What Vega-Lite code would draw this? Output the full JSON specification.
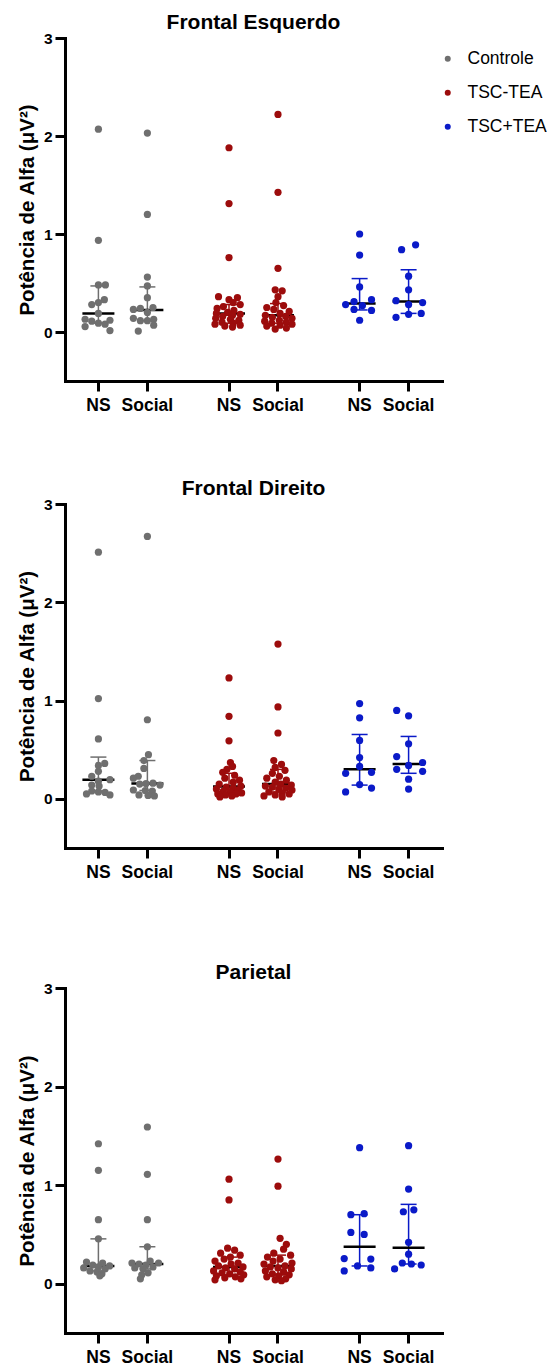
{
"$schema": "https://vega.github.io/schema/vega-lite/v6.json",
"background": "white",
"padding": {"left": 17, "top": 12, "right": 0, "bottom": 0},
"spacing": 64,
"datasets": {
"sum": [
{"p":1,"g":"Controle","k":"1 NS","med":0.19,"q1":0.09,"q3":0.47},
{"p":1,"g":"Controle","k":"1 Social","med":0.225,"q1":0.115,"q3":0.46},
{"p":1,"g":"TSC-TEA","k":"2 NS","med":0.19,"q1":0.09,"q3":0.28},
{"p":1,"g":"TSC-TEA","k":"2 Social","med":0.17,"q1":0.09,"q3":0.29},
{"p":1,"g":"TSC+TEA","k":"3 NS","med":0.29,"q1":0.225,"q3":0.545},
{"p":1,"g":"TSC+TEA","k":"3 Social","med":0.31,"q1":0.19,"q3":0.635},
{"p":2,"g":"Controle","k":"1 NS","med":0.195,"q1":0.08,"q3":0.425},
{"p":2,"g":"Controle","k":"1 Social","med":0.155,"q1":0.085,"q3":0.39},
{"p":2,"g":"TSC-TEA","k":"2 NS","med":0.125,"q1":0.06,"q3":0.26},
{"p":2,"g":"TSC-TEA","k":"2 Social","med":0.15,"q1":0.07,"q3":0.3},
{"p":2,"g":"TSC+TEA","k":"3 NS","med":0.3,"q1":0.14,"q3":0.655},
{"p":2,"g":"TSC+TEA","k":"3 Social","med":0.355,"q1":0.26,"q3":0.635},
{"p":3,"g":"Controle","k":"1 NS","med":0.18,"q1":0.13,"q3":0.455},
{"p":3,"g":"Controle","k":"1 Social","med":0.2,"q1":0.15,"q3":0.375},
{"p":3,"g":"TSC-TEA","k":"2 NS","med":0.17,"q1":0.09,"q3":0.27},
{"p":3,"g":"TSC-TEA","k":"2 Social","med":0.18,"q1":0.09,"q3":0.29},
{"p":3,"g":"TSC+TEA","k":"3 NS","med":0.375,"q1":0.18,"q3":0.7},
{"p":3,"g":"TSC+TEA","k":"3 Social","med":0.365,"q1":0.2,"q3":0.805}
],
"pts": [
{"p":1,"g":"Controle","k":"1 NS","v":2.07,"j":0},
{"p":1,"g":"Controle","k":"1 NS","v":0.935,"j":0},
{"p":1,"g":"Controle","k":"1 NS","v":0.48,"j":0},
{"p":1,"g":"Controle","k":"1 NS","v":0.48,"j":1},
{"p":1,"g":"Controle","k":"1 NS","v":0.33,"j":0.85},
{"p":1,"g":"Controle","k":"1 NS","v":0.3,"j":0},
{"p":1,"g":"Controle","k":"1 NS","v":0.28,"j":-0.95},
{"p":1,"g":"Controle","k":"1 NS","v":0.19,"j":0},
{"p":1,"g":"Controle","k":"1 NS","v":0.13,"j":-1.9},
{"p":1,"g":"Controle","k":"1 NS","v":0.11,"j":-0.95},
{"p":1,"g":"Controle","k":"1 NS","v":0.09,"j":0},
{"p":1,"g":"Controle","k":"1 NS","v":0.08,"j":0.95},
{"p":1,"g":"Controle","k":"1 NS","v":0.12,"j":1.65},
{"p":1,"g":"Controle","k":"1 NS","v":0.055,"j":-1.9},
{"p":1,"g":"Controle","k":"1 NS","v":0.015,"j":1.65},
{"p":1,"g":"Controle","k":"1 Social","v":2.03,"j":0},
{"p":1,"g":"Controle","k":"1 Social","v":1.2,"j":0},
{"p":1,"g":"Controle","k":"1 Social","v":0.56,"j":0},
{"p":1,"g":"Controle","k":"1 Social","v":0.47,"j":0},
{"p":1,"g":"Controle","k":"1 Social","v":0.35,"j":0},
{"p":1,"g":"Controle","k":"1 Social","v":0.25,"j":0.8},
{"p":1,"g":"Controle","k":"1 Social","v":0.24,"j":-1},
{"p":1,"g":"Controle","k":"1 Social","v":0.23,"j":-2},
{"p":1,"g":"Controle","k":"1 Social","v":0.2,"j":0},
{"p":1,"g":"Controle","k":"1 Social","v":0.14,"j":-2},
{"p":1,"g":"Controle","k":"1 Social","v":0.13,"j":0.9},
{"p":1,"g":"Controle","k":"1 Social","v":0.115,"j":-1},
{"p":1,"g":"Controle","k":"1 Social","v":0.115,"j":0},
{"p":1,"g":"Controle","k":"1 Social","v":0.07,"j":0.9},
{"p":1,"g":"Controle","k":"1 Social","v":0.01,"j":-1.3},
{"p":1,"g":"TSC-TEA","k":"2 NS","v":1.88,"j":0},
{"p":1,"g":"TSC-TEA","k":"2 NS","v":1.31,"j":0},
{"p":1,"g":"TSC-TEA","k":"2 NS","v":0.76,"j":0},
{"p":1,"g":"TSC-TEA","k":"2 NS","v":0.36,"j":-1.5},
{"p":1,"g":"TSC-TEA","k":"2 NS","v":0.35,"j":1.2},
{"p":1,"g":"TSC-TEA","k":"2 NS","v":0.33,"j":0},
{"p":1,"g":"TSC-TEA","k":"2 NS","v":0.3,"j":0.6},
{"p":1,"g":"TSC-TEA","k":"2 NS","v":0.28,"j":1.6},
{"p":1,"g":"TSC-TEA","k":"2 NS","v":0.26,"j":-0.8},
{"p":1,"g":"TSC-TEA","k":"2 NS","v":0.24,"j":-1.7},
{"p":1,"g":"TSC-TEA","k":"2 NS","v":0.22,"j":0.7},
{"p":1,"g":"TSC-TEA","k":"2 NS","v":0.2,"j":-0.2},
{"p":1,"g":"TSC-TEA","k":"2 NS","v":0.19,"j":-1.8},
{"p":1,"g":"TSC-TEA","k":"2 NS","v":0.18,"j":1.6},
{"p":1,"g":"TSC-TEA","k":"2 NS","v":0.17,"j":0.5},
{"p":1,"g":"TSC-TEA","k":"2 NS","v":0.16,"j":-0.9},
{"p":1,"g":"TSC-TEA","k":"2 NS","v":0.14,"j":-1.9},
{"p":1,"g":"TSC-TEA","k":"2 NS","v":0.13,"j":0.2},
{"p":1,"g":"TSC-TEA","k":"2 NS","v":0.12,"j":1.4},
{"p":1,"g":"TSC-TEA","k":"2 NS","v":0.1,"j":-1},
{"p":1,"g":"TSC-TEA","k":"2 NS","v":0.09,"j":0.6},
{"p":1,"g":"TSC-TEA","k":"2 NS","v":0.08,"j":-2},
{"p":1,"g":"TSC-TEA","k":"2 NS","v":0.07,"j":1.6},
{"p":1,"g":"TSC-TEA","k":"2 NS","v":0.06,"j":-0.6},
{"p":1,"g":"TSC-TEA","k":"2 NS","v":0.05,"j":0.5},
{"p":1,"g":"TSC-TEA","k":"2 Social","v":2.22,"j":0},
{"p":1,"g":"TSC-TEA","k":"2 Social","v":1.425,"j":0},
{"p":1,"g":"TSC-TEA","k":"2 Social","v":0.65,"j":0},
{"p":1,"g":"TSC-TEA","k":"2 Social","v":0.43,"j":-0.4},
{"p":1,"g":"TSC-TEA","k":"2 Social","v":0.42,"j":0.6},
{"p":1,"g":"TSC-TEA","k":"2 Social","v":0.36,"j":0},
{"p":1,"g":"TSC-TEA","k":"2 Social","v":0.3,"j":-0.3},
{"p":1,"g":"TSC-TEA","k":"2 Social","v":0.27,"j":0.8},
{"p":1,"g":"TSC-TEA","k":"2 Social","v":0.25,"j":-1.6},
{"p":1,"g":"TSC-TEA","k":"2 Social","v":0.23,"j":-0.6},
{"p":1,"g":"TSC-TEA","k":"2 Social","v":0.21,"j":1.6},
{"p":1,"g":"TSC-TEA","k":"2 Social","v":0.19,"j":0.3},
{"p":1,"g":"TSC-TEA","k":"2 Social","v":0.17,"j":-1.8},
{"p":1,"g":"TSC-TEA","k":"2 Social","v":0.16,"j":1.1},
{"p":1,"g":"TSC-TEA","k":"2 Social","v":0.15,"j":-0.8},
{"p":1,"g":"TSC-TEA","k":"2 Social","v":0.14,"j":2},
{"p":1,"g":"TSC-TEA","k":"2 Social","v":0.12,"j":0.2},
{"p":1,"g":"TSC-TEA","k":"2 Social","v":0.11,"j":-1.9},
{"p":1,"g":"TSC-TEA","k":"2 Social","v":0.1,"j":1.2},
{"p":1,"g":"TSC-TEA","k":"2 Social","v":0.09,"j":-0.9},
{"p":1,"g":"TSC-TEA","k":"2 Social","v":0.08,"j":2},
{"p":1,"g":"TSC-TEA","k":"2 Social","v":0.07,"j":0.3},
{"p":1,"g":"TSC-TEA","k":"2 Social","v":0.06,"j":-1.6},
{"p":1,"g":"TSC-TEA","k":"2 Social","v":0.04,"j":1.2},
{"p":1,"g":"TSC-TEA","k":"2 Social","v":0.03,"j":-0.4},
{"p":1,"g":"TSC+TEA","k":"3 NS","v":1.0,"j":0},
{"p":1,"g":"TSC+TEA","k":"3 NS","v":0.785,"j":0},
{"p":1,"g":"TSC+TEA","k":"3 NS","v":0.46,"j":0},
{"p":1,"g":"TSC+TEA","k":"3 NS","v":0.33,"j":1.7},
{"p":1,"g":"TSC+TEA","k":"3 NS","v":0.31,"j":-0.8},
{"p":1,"g":"TSC+TEA","k":"3 NS","v":0.28,"j":-2},
{"p":1,"g":"TSC+TEA","k":"3 NS","v":0.27,"j":0.4},
{"p":1,"g":"TSC+TEA","k":"3 NS","v":0.23,"j":-0.8},
{"p":1,"g":"TSC+TEA","k":"3 NS","v":0.22,"j":1.7},
{"p":1,"g":"TSC+TEA","k":"3 NS","v":0.12,"j":0},
{"p":1,"g":"TSC+TEA","k":"3 Social","v":0.89,"j":1},
{"p":1,"g":"TSC+TEA","k":"3 Social","v":0.84,"j":-1},
{"p":1,"g":"TSC+TEA","k":"3 Social","v":0.57,"j":0},
{"p":1,"g":"TSC+TEA","k":"3 Social","v":0.43,"j":0},
{"p":1,"g":"TSC+TEA","k":"3 Social","v":0.32,"j":-1.8},
{"p":1,"g":"TSC+TEA","k":"3 Social","v":0.3,"j":2},
{"p":1,"g":"TSC+TEA","k":"3 Social","v":0.28,"j":0},
{"p":1,"g":"TSC+TEA","k":"3 Social","v":0.19,"j":1.8},
{"p":1,"g":"TSC+TEA","k":"3 Social","v":0.18,"j":0},
{"p":1,"g":"TSC+TEA","k":"3 Social","v":0.15,"j":-1.8},
{"p":2,"g":"Controle","k":"1 NS","v":2.51,"j":0},
{"p":2,"g":"Controle","k":"1 NS","v":1.02,"j":0},
{"p":2,"g":"Controle","k":"1 NS","v":0.61,"j":0},
{"p":2,"g":"Controle","k":"1 NS","v":0.36,"j":0.9},
{"p":2,"g":"Controle","k":"1 NS","v":0.34,"j":0},
{"p":2,"g":"Controle","k":"1 NS","v":0.28,"j":0},
{"p":2,"g":"Controle","k":"1 NS","v":0.23,"j":-0.95},
{"p":2,"g":"Controle","k":"1 NS","v":0.195,"j":1.65},
{"p":2,"g":"Controle","k":"1 NS","v":0.18,"j":0},
{"p":2,"g":"Controle","k":"1 NS","v":0.14,"j":-0.95},
{"p":2,"g":"Controle","k":"1 NS","v":0.13,"j":0.1},
{"p":2,"g":"Controle","k":"1 NS","v":0.08,"j":-0.95},
{"p":2,"g":"Controle","k":"1 NS","v":0.07,"j":0},
{"p":2,"g":"Controle","k":"1 NS","v":0.065,"j":0.95},
{"p":2,"g":"Controle","k":"1 NS","v":0.05,"j":-1.7},
{"p":2,"g":"Controle","k":"1 NS","v":0.04,"j":1.65},
{"p":2,"g":"Controle","k":"1 Social","v":2.67,"j":0},
{"p":2,"g":"Controle","k":"1 Social","v":0.805,"j":0},
{"p":2,"g":"Controle","k":"1 Social","v":0.45,"j":0.15},
{"p":2,"g":"Controle","k":"1 Social","v":0.39,"j":-0.5},
{"p":2,"g":"Controle","k":"1 Social","v":0.31,"j":-0.5},
{"p":2,"g":"Controle","k":"1 Social","v":0.23,"j":-1.3},
{"p":2,"g":"Controle","k":"1 Social","v":0.21,"j":-2},
{"p":2,"g":"Controle","k":"1 Social","v":0.16,"j":0.8},
{"p":2,"g":"Controle","k":"1 Social","v":0.155,"j":-0.2},
{"p":2,"g":"Controle","k":"1 Social","v":0.15,"j":-1.1},
{"p":2,"g":"Controle","k":"1 Social","v":0.14,"j":1.8},
{"p":2,"g":"Controle","k":"1 Social","v":0.09,"j":-2},
{"p":2,"g":"Controle","k":"1 Social","v":0.085,"j":-0.3},
{"p":2,"g":"Controle","k":"1 Social","v":0.08,"j":0.7},
{"p":2,"g":"Controle","k":"1 Social","v":0.04,"j":-1.2},
{"p":2,"g":"Controle","k":"1 Social","v":0.035,"j":0.1},
{"p":2,"g":"Controle","k":"1 Social","v":0.03,"j":1},
{"p":2,"g":"TSC-TEA","k":"2 NS","v":1.23,"j":0},
{"p":2,"g":"TSC-TEA","k":"2 NS","v":0.84,"j":0},
{"p":2,"g":"TSC-TEA","k":"2 NS","v":0.59,"j":0},
{"p":2,"g":"TSC-TEA","k":"2 NS","v":0.37,"j":0.2},
{"p":2,"g":"TSC-TEA","k":"2 NS","v":0.33,"j":0.5},
{"p":2,"g":"TSC-TEA","k":"2 NS","v":0.3,"j":-0.3},
{"p":2,"g":"TSC-TEA","k":"2 NS","v":0.27,"j":-0.9},
{"p":2,"g":"TSC-TEA","k":"2 NS","v":0.24,"j":0.8},
{"p":2,"g":"TSC-TEA","k":"2 NS","v":0.21,"j":-0.6},
{"p":2,"g":"TSC-TEA","k":"2 NS","v":0.19,"j":1.5},
{"p":2,"g":"TSC-TEA","k":"2 NS","v":0.17,"j":0.6},
{"p":2,"g":"TSC-TEA","k":"2 NS","v":0.15,"j":-1.4},
{"p":2,"g":"TSC-TEA","k":"2 NS","v":0.13,"j":1.7},
{"p":2,"g":"TSC-TEA","k":"2 NS","v":0.12,"j":-0.4},
{"p":2,"g":"TSC-TEA","k":"2 NS","v":0.11,"j":0.6},
{"p":2,"g":"TSC-TEA","k":"2 NS","v":0.1,"j":-1.8},
{"p":2,"g":"TSC-TEA","k":"2 NS","v":0.09,"j":1.3},
{"p":2,"g":"TSC-TEA","k":"2 NS","v":0.08,"j":-0.8},
{"p":2,"g":"TSC-TEA","k":"2 NS","v":0.07,"j":0.2},
{"p":2,"g":"TSC-TEA","k":"2 NS","v":0.06,"j":1.8},
{"p":2,"g":"TSC-TEA","k":"2 NS","v":0.05,"j":-1.6},
{"p":2,"g":"TSC-TEA","k":"2 NS","v":0.05,"j":1},
{"p":2,"g":"TSC-TEA","k":"2 NS","v":0.04,"j":-0.5},
{"p":2,"g":"TSC-TEA","k":"2 NS","v":0.03,"j":0.4},
{"p":2,"g":"TSC-TEA","k":"2 NS","v":0.02,"j":-1.3},
{"p":2,"g":"TSC-TEA","k":"2 Social","v":1.575,"j":0},
{"p":2,"g":"TSC-TEA","k":"2 Social","v":0.935,"j":0},
{"p":2,"g":"TSC-TEA","k":"2 Social","v":0.67,"j":0},
{"p":2,"g":"TSC-TEA","k":"2 Social","v":0.39,"j":-0.6},
{"p":2,"g":"TSC-TEA","k":"2 Social","v":0.35,"j":0.5},
{"p":2,"g":"TSC-TEA","k":"2 Social","v":0.32,"j":-0.4},
{"p":2,"g":"TSC-TEA","k":"2 Social","v":0.29,"j":1},
{"p":2,"g":"TSC-TEA","k":"2 Social","v":0.26,"j":-0.8},
{"p":2,"g":"TSC-TEA","k":"2 Social","v":0.23,"j":0.2},
{"p":2,"g":"TSC-TEA","k":"2 Social","v":0.21,"j":-1.6},
{"p":2,"g":"TSC-TEA","k":"2 Social","v":0.19,"j":1.2},
{"p":2,"g":"TSC-TEA","k":"2 Social","v":0.17,"j":-0.4},
{"p":2,"g":"TSC-TEA","k":"2 Social","v":0.15,"j":0.4},
{"p":2,"g":"TSC-TEA","k":"2 Social","v":0.14,"j":1.9},
{"p":2,"g":"TSC-TEA","k":"2 Social","v":0.13,"j":-1.8},
{"p":2,"g":"TSC-TEA","k":"2 Social","v":0.12,"j":-0.8},
{"p":2,"g":"TSC-TEA","k":"2 Social","v":0.11,"j":1.1},
{"p":2,"g":"TSC-TEA","k":"2 Social","v":0.1,"j":0.1},
{"p":2,"g":"TSC-TEA","k":"2 Social","v":0.09,"j":2},
{"p":2,"g":"TSC-TEA","k":"2 Social","v":0.07,"j":-1.3},
{"p":2,"g":"TSC-TEA","k":"2 Social","v":0.06,"j":0.6},
{"p":2,"g":"TSC-TEA","k":"2 Social","v":0.05,"j":1.6},
{"p":2,"g":"TSC-TEA","k":"2 Social","v":0.04,"j":-0.4},
{"p":2,"g":"TSC-TEA","k":"2 Social","v":0.03,"j":-2},
{"p":2,"g":"TSC-TEA","k":"2 Social","v":0.02,"j":0.6},
{"p":2,"g":"TSC+TEA","k":"3 NS","v":0.97,"j":0},
{"p":2,"g":"TSC+TEA","k":"3 NS","v":0.825,"j":0},
{"p":2,"g":"TSC+TEA","k":"3 NS","v":0.595,"j":0},
{"p":2,"g":"TSC+TEA","k":"3 NS","v":0.42,"j":0},
{"p":2,"g":"TSC+TEA","k":"3 NS","v":0.33,"j":0},
{"p":2,"g":"TSC+TEA","k":"3 NS","v":0.27,"j":1.7},
{"p":2,"g":"TSC+TEA","k":"3 NS","v":0.26,"j":-2},
{"p":2,"g":"TSC+TEA","k":"3 NS","v":0.145,"j":0},
{"p":2,"g":"TSC+TEA","k":"3 NS","v":0.11,"j":1.7},
{"p":2,"g":"TSC+TEA","k":"3 NS","v":0.07,"j":-2},
{"p":2,"g":"TSC+TEA","k":"3 Social","v":0.9,"j":-1.7},
{"p":2,"g":"TSC+TEA","k":"3 Social","v":0.845,"j":0},
{"p":2,"g":"TSC+TEA","k":"3 Social","v":0.56,"j":0},
{"p":2,"g":"TSC+TEA","k":"3 Social","v":0.43,"j":-1.7},
{"p":2,"g":"TSC+TEA","k":"3 Social","v":0.37,"j":2},
{"p":2,"g":"TSC+TEA","k":"3 Social","v":0.34,"j":0},
{"p":2,"g":"TSC+TEA","k":"3 Social","v":0.3,"j":-1.7},
{"p":2,"g":"TSC+TEA","k":"3 Social","v":0.28,"j":2},
{"p":2,"g":"TSC+TEA","k":"3 Social","v":0.2,"j":0},
{"p":2,"g":"TSC+TEA","k":"3 Social","v":0.1,"j":0},
{"p":3,"g":"Controle","k":"1 NS","v":1.42,"j":0},
{"p":3,"g":"Controle","k":"1 NS","v":1.15,"j":0},
{"p":3,"g":"Controle","k":"1 NS","v":0.65,"j":0},
{"p":3,"g":"Controle","k":"1 NS","v":0.455,"j":0},
{"p":3,"g":"Controle","k":"1 NS","v":0.22,"j":-1.7},
{"p":3,"g":"Controle","k":"1 NS","v":0.21,"j":0.6},
{"p":3,"g":"Controle","k":"1 NS","v":0.19,"j":-0.8},
{"p":3,"g":"Controle","k":"1 NS","v":0.18,"j":1.6},
{"p":3,"g":"Controle","k":"1 NS","v":0.17,"j":0},
{"p":3,"g":"Controle","k":"1 NS","v":0.16,"j":-2.1},
{"p":3,"g":"Controle","k":"1 NS","v":0.15,"j":0.95},
{"p":3,"g":"Controle","k":"1 NS","v":0.13,"j":-1.2},
{"p":3,"g":"Controle","k":"1 NS","v":0.12,"j":-0.2},
{"p":3,"g":"Controle","k":"1 NS","v":0.1,"j":0.5},
{"p":3,"g":"Controle","k":"1 NS","v":0.08,"j":0.2},
{"p":3,"g":"Controle","k":"1 Social","v":1.59,"j":0},
{"p":3,"g":"Controle","k":"1 Social","v":1.11,"j":0},
{"p":3,"g":"Controle","k":"1 Social","v":0.65,"j":0},
{"p":3,"g":"Controle","k":"1 Social","v":0.375,"j":0},
{"p":3,"g":"Controle","k":"1 Social","v":0.23,"j":0.4},
{"p":3,"g":"Controle","k":"1 Social","v":0.21,"j":-2.2},
{"p":3,"g":"Controle","k":"1 Social","v":0.21,"j":1.6},
{"p":3,"g":"Controle","k":"1 Social","v":0.2,"j":-1.2},
{"p":3,"g":"Controle","k":"1 Social","v":0.19,"j":-0.2},
{"p":3,"g":"Controle","k":"1 Social","v":0.17,"j":0.8},
{"p":3,"g":"Controle","k":"1 Social","v":0.16,"j":-1.8},
{"p":3,"g":"Controle","k":"1 Social","v":0.15,"j":-0.6},
{"p":3,"g":"Controle","k":"1 Social","v":0.11,"j":0.1},
{"p":3,"g":"Controle","k":"1 Social","v":0.09,"j":-0.8},
{"p":3,"g":"Controle","k":"1 Social","v":0.05,"j":-1},
{"p":3,"g":"TSC-TEA","k":"2 NS","v":1.06,"j":0},
{"p":3,"g":"TSC-TEA","k":"2 NS","v":0.85,"j":0},
{"p":3,"g":"TSC-TEA","k":"2 NS","v":0.36,"j":-0.2},
{"p":3,"g":"TSC-TEA","k":"2 NS","v":0.34,"j":0.8},
{"p":3,"g":"TSC-TEA","k":"2 NS","v":0.31,"j":-1.2},
{"p":3,"g":"TSC-TEA","k":"2 NS","v":0.29,"j":1.6},
{"p":3,"g":"TSC-TEA","k":"2 NS","v":0.27,"j":0.2},
{"p":3,"g":"TSC-TEA","k":"2 NS","v":0.25,"j":-0.7},
{"p":3,"g":"TSC-TEA","k":"2 NS","v":0.23,"j":-2},
{"p":3,"g":"TSC-TEA","k":"2 NS","v":0.21,"j":1.3},
{"p":3,"g":"TSC-TEA","k":"2 NS","v":0.2,"j":0.3},
{"p":3,"g":"TSC-TEA","k":"2 NS","v":0.18,"j":-1.5},
{"p":3,"g":"TSC-TEA","k":"2 NS","v":0.17,"j":2},
{"p":3,"g":"TSC-TEA","k":"2 NS","v":0.16,"j":-0.5},
{"p":3,"g":"TSC-TEA","k":"2 NS","v":0.15,"j":0.8},
{"p":3,"g":"TSC-TEA","k":"2 NS","v":0.13,"j":-2.2},
{"p":3,"g":"TSC-TEA","k":"2 NS","v":0.12,"j":1.6},
{"p":3,"g":"TSC-TEA","k":"2 NS","v":0.11,"j":-1},
{"p":3,"g":"TSC-TEA","k":"2 NS","v":0.1,"j":0.1},
{"p":3,"g":"TSC-TEA","k":"2 NS","v":0.09,"j":2.1},
{"p":3,"g":"TSC-TEA","k":"2 NS","v":0.08,"j":-1.8},
{"p":3,"g":"TSC-TEA","k":"2 NS","v":0.07,"j":0.9},
{"p":3,"g":"TSC-TEA","k":"2 NS","v":0.06,"j":-0.6},
{"p":3,"g":"TSC-TEA","k":"2 NS","v":0.05,"j":1.7},
{"p":3,"g":"TSC-TEA","k":"2 NS","v":0.04,"j":-2},
{"p":3,"g":"TSC-TEA","k":"2 Social","v":1.265,"j":0},
{"p":3,"g":"TSC-TEA","k":"2 Social","v":0.99,"j":0},
{"p":3,"g":"TSC-TEA","k":"2 Social","v":0.46,"j":0.3},
{"p":3,"g":"TSC-TEA","k":"2 Social","v":0.4,"j":1.2},
{"p":3,"g":"TSC-TEA","k":"2 Social","v":0.35,"j":0.8},
{"p":3,"g":"TSC-TEA","k":"2 Social","v":0.31,"j":-0.6},
{"p":3,"g":"TSC-TEA","k":"2 Social","v":0.29,"j":1.8},
{"p":3,"g":"TSC-TEA","k":"2 Social","v":0.27,"j":-1.5},
{"p":3,"g":"TSC-TEA","k":"2 Social","v":0.25,"j":0.3},
{"p":3,"g":"TSC-TEA","k":"2 Social","v":0.23,"j":-0.7},
{"p":3,"g":"TSC-TEA","k":"2 Social","v":0.21,"j":2},
{"p":3,"g":"TSC-TEA","k":"2 Social","v":0.2,"j":-2},
{"p":3,"g":"TSC-TEA","k":"2 Social","v":0.18,"j":1},
{"p":3,"g":"TSC-TEA","k":"2 Social","v":0.17,"j":-1.1},
{"p":3,"g":"TSC-TEA","k":"2 Social","v":0.16,"j":0},
{"p":3,"g":"TSC-TEA","k":"2 Social","v":0.15,"j":1.9},
{"p":3,"g":"TSC-TEA","k":"2 Social","v":0.13,"j":-1.8},
{"p":3,"g":"TSC-TEA","k":"2 Social","v":0.12,"j":0.8},
{"p":3,"g":"TSC-TEA","k":"2 Social","v":0.1,"j":-0.8},
{"p":3,"g":"TSC-TEA","k":"2 Social","v":0.09,"j":1.6},
{"p":3,"g":"TSC-TEA","k":"2 Social","v":0.08,"j":0.1},
{"p":3,"g":"TSC-TEA","k":"2 Social","v":0.07,"j":-1.6},
{"p":3,"g":"TSC-TEA","k":"2 Social","v":0.05,"j":1.1},
{"p":3,"g":"TSC-TEA","k":"2 Social","v":0.04,"j":-0.4},
{"p":3,"g":"TSC-TEA","k":"2 Social","v":0.03,"j":0.5},
{"p":3,"g":"TSC+TEA","k":"3 NS","v":1.38,"j":0},
{"p":3,"g":"TSC+TEA","k":"3 NS","v":0.71,"j":0.65},
{"p":3,"g":"TSC+TEA","k":"3 NS","v":0.7,"j":-1.25},
{"p":3,"g":"TSC+TEA","k":"3 NS","v":0.52,"j":-1.25},
{"p":3,"g":"TSC+TEA","k":"3 NS","v":0.5,"j":0.65},
{"p":3,"g":"TSC+TEA","k":"3 NS","v":0.255,"j":-2.2},
{"p":3,"g":"TSC+TEA","k":"3 NS","v":0.25,"j":1.6},
{"p":3,"g":"TSC+TEA","k":"3 NS","v":0.18,"j":-0.3},
{"p":3,"g":"TSC+TEA","k":"3 NS","v":0.16,"j":1.6},
{"p":3,"g":"TSC+TEA","k":"3 NS","v":0.13,"j":-2.2},
{"p":3,"g":"TSC+TEA","k":"3 Social","v":1.4,"j":0},
{"p":3,"g":"TSC+TEA","k":"3 Social","v":0.96,"j":0},
{"p":3,"g":"TSC+TEA","k":"3 Social","v":0.75,"j":0.75},
{"p":3,"g":"TSC+TEA","k":"3 Social","v":0.73,"j":-0.75},
{"p":3,"g":"TSC+TEA","k":"3 Social","v":0.42,"j":0},
{"p":3,"g":"TSC+TEA","k":"3 Social","v":0.3,"j":0},
{"p":3,"g":"TSC+TEA","k":"3 Social","v":0.21,"j":-0.9},
{"p":3,"g":"TSC+TEA","k":"3 Social","v":0.2,"j":0.4},
{"p":3,"g":"TSC+TEA","k":"3 Social","v":0.19,"j":1.8},
{"p":3,"g":"TSC+TEA","k":"3 Social","v":0.15,"j":-2}
]
},
"vconcat": [
{
"width": 377, "height": 343,
"title": {"text": "Frontal Esquerdo"},
"encoding": {
"x": {"field": "k", "type": "nominal", "scale": {"domain": ["e0","1 NS","s1","s2","1 Social","s3","s4","s5","s6","2 NS","s7","s8","2 Social","s9","s10","s11","s12","3 NS","s13","s14","3 Social","e1"], "paddingInner": 0, "paddingOuter": 0.546}, "axis": {"values": ["1 NS","1 Social","2 NS","2 Social","3 NS","3 Social"], "labelExpr": "slice(datum.value, 2)", "title": null}},
"color": {"field": "g", "type": "nominal", "scale": {"domain": ["Controle","TSC-TEA","TSC+TEA"], "range": ["#6f6f6f","#9c0c0c","#0a1ac8"]}, "legend": {"orient": "none", "legendX": 374, "legendY": 12, "title": null, "labelFontSize": 17.5, "labelColor": "black", "symbolSize": 36, "symbolType": "circle", "symbolStrokeWidth": 0, "symbolOpacity": 1, "rowPadding": 15, "labelOffset": 11, "padding": 0}}
},
"layer": [
{"data": {"name": "sum"}, "transform": [{"filter": "datum.p == 1"}], "mark": {"type": "rule", "strokeWidth": 1.5}, "encoding": {"y": {"field": "q1", "type": "quantitative", "scale": {"domain": [-0.5, 3], "nice": false, "zero": false}, "axis": {"values": [0,1,2,3], "title": "Potência de Alfa (μV²)"}}, "y2": {"field": "q3"}}},
{"data": {"name": "sum"}, "transform": [{"filter": "datum.p == 1"}], "mark": {"type": "tick", "size": 16, "thickness": 1.5, "opacity": 1}, "encoding": {"y": {"field": "q3", "type": "quantitative", "scale": {"domain": [-0.5, 3], "nice": false, "zero": false}, "axis": {"values": [0,1,2,3], "title": "Potência de Alfa (μV²)"}}}},
{"data": {"name": "sum"}, "transform": [{"filter": "datum.p == 1"}], "mark": {"type": "tick", "size": 16, "thickness": 1.5, "opacity": 1}, "encoding": {"y": {"field": "q1", "type": "quantitative", "scale": {"domain": [-0.5, 3], "nice": false, "zero": false}, "axis": {"values": [0,1,2,3], "title": "Potência de Alfa (μV²)"}}}},
{"data": {"name": "sum"}, "transform": [{"filter": "datum.p == 1"}], "mark": {"type": "tick", "size": 32, "thickness": 2.5, "color": "black", "opacity": 1}, "encoding": {"y": {"field": "med", "type": "quantitative", "scale": {"domain": [-0.5, 3], "nice": false, "zero": false}, "axis": {"values": [0,1,2,3], "title": "Potência de Alfa (μV²)"}}, "color": {"value": "black"}}},
{"data": {"name": "pts"}, "transform": [{"filter": "datum.p == 1"}], "mark": {"type": "circle", "size": 52, "opacity": 1}, "encoding": {"xOffset": {"field": "j", "type": "quantitative", "scale": {"domain": [-1.166, 1.166]}}, "y": {"field": "v", "type": "quantitative", "scale": {"domain": [-0.5, 3], "nice": false, "zero": false}, "axis": {"values": [0,1,2,3], "title": "Potência de Alfa (μV²)"}}}}
]
},
{
"width": 377, "height": 344,
"title": {"text": "Frontal Direito"},
"encoding": {
"x": {"field": "k", "type": "nominal", "scale": {"domain": ["e0","1 NS","s1","s2","1 Social","s3","s4","s5","s6","2 NS","s7","s8","2 Social","s9","s10","s11","s12","3 NS","s13","s14","3 Social","e1"], "paddingInner": 0, "paddingOuter": 0.546}, "axis": {"values": ["1 NS","1 Social","2 NS","2 Social","3 NS","3 Social"], "labelExpr": "slice(datum.value, 2)", "title": " ", "titleFontSize": 12, "titlePadding": 6}},
"color": {"field": "g", "type": "nominal", "scale": {"domain": ["Controle","TSC-TEA","TSC+TEA"], "range": ["#6f6f6f","#9c0c0c","#0a1ac8"]}, "legend": {"orient": "none", "legendX": 374, "legendY": 12, "title": null, "labelFontSize": 17.5, "labelColor": "black", "symbolSize": 36, "symbolType": "circle", "symbolStrokeWidth": 0, "symbolOpacity": 1, "rowPadding": 15, "labelOffset": 11, "padding": 0}}
},
"layer": [
{"data": {"name": "sum"}, "transform": [{"filter": "datum.p == 2"}], "mark": {"type": "rule", "strokeWidth": 1.5}, "encoding": {"y": {"field": "q1", "type": "quantitative", "scale": {"domain": [-0.5, 3], "nice": false, "zero": false}, "axis": {"values": [0,1,2,3], "title": "Potência de Alfa (μV²)"}}, "y2": {"field": "q3"}}},
{"data": {"name": "sum"}, "transform": [{"filter": "datum.p == 2"}], "mark": {"type": "tick", "size": 16, "thickness": 1.5, "opacity": 1}, "encoding": {"y": {"field": "q3", "type": "quantitative", "scale": {"domain": [-0.5, 3], "nice": false, "zero": false}, "axis": {"values": [0,1,2,3], "title": "Potência de Alfa (μV²)"}}}},
{"data": {"name": "sum"}, "transform": [{"filter": "datum.p == 2"}], "mark": {"type": "tick", "size": 16, "thickness": 1.5, "opacity": 1}, "encoding": {"y": {"field": "q1", "type": "quantitative", "scale": {"domain": [-0.5, 3], "nice": false, "zero": false}, "axis": {"values": [0,1,2,3], "title": "Potência de Alfa (μV²)"}}}},
{"data": {"name": "sum"}, "transform": [{"filter": "datum.p == 2"}], "mark": {"type": "tick", "size": 32, "thickness": 2.5, "color": "black", "opacity": 1}, "encoding": {"y": {"field": "med", "type": "quantitative", "scale": {"domain": [-0.5, 3], "nice": false, "zero": false}, "axis": {"values": [0,1,2,3], "title": "Potência de Alfa (μV²)"}}, "color": {"value": "black"}}},
{"data": {"name": "pts"}, "transform": [{"filter": "datum.p == 2"}], "mark": {"type": "circle", "size": 52, "opacity": 1}, "encoding": {"xOffset": {"field": "j", "type": "quantitative", "scale": {"domain": [-1.166, 1.166]}}, "y": {"field": "v", "type": "quantitative", "scale": {"domain": [-0.5, 3], "nice": false, "zero": false}, "axis": {"values": [0,1,2,3], "title": "Potência de Alfa (μV²)"}}}}
]
},
{
"width": 377, "height": 345,
"title": {"text": "Parietal"},
"encoding": {
"x": {"field": "k", "type": "nominal", "scale": {"domain": ["e0","1 NS","s1","s2","1 Social","s3","s4","s5","s6","2 NS","s7","s8","2 Social","s9","s10","s11","s12","3 NS","s13","s14","3 Social","e1"], "paddingInner": 0, "paddingOuter": 0.546}, "axis": {"values": ["1 NS","1 Social","2 NS","2 Social","3 NS","3 Social"], "labelExpr": "slice(datum.value, 2)", "title": null}},
"color": {"field": "g", "type": "nominal", "scale": {"domain": ["Controle","TSC-TEA","TSC+TEA"], "range": ["#6f6f6f","#9c0c0c","#0a1ac8"]}, "legend": {"orient": "none", "legendX": 374, "legendY": 12, "title": null, "labelFontSize": 17.5, "labelColor": "black", "symbolSize": 36, "symbolType": "circle", "symbolStrokeWidth": 0, "symbolOpacity": 1, "rowPadding": 15, "labelOffset": 11, "padding": 0}}
},
"layer": [
{"data": {"name": "sum"}, "transform": [{"filter": "datum.p == 3"}], "mark": {"type": "rule", "strokeWidth": 1.5}, "encoding": {"y": {"field": "q1", "type": "quantitative", "scale": {"domain": [-0.5, 3], "nice": false, "zero": false}, "axis": {"values": [0,1,2,3], "title": "Potência de Alfa (μV²)"}}, "y2": {"field": "q3"}}},
{"data": {"name": "sum"}, "transform": [{"filter": "datum.p == 3"}], "mark": {"type": "tick", "size": 16, "thickness": 1.5, "opacity": 1}, "encoding": {"y": {"field": "q3", "type": "quantitative", "scale": {"domain": [-0.5, 3], "nice": false, "zero": false}, "axis": {"values": [0,1,2,3], "title": "Potência de Alfa (μV²)"}}}},
{"data": {"name": "sum"}, "transform": [{"filter": "datum.p == 3"}], "mark": {"type": "tick", "size": 16, "thickness": 1.5, "opacity": 1}, "encoding": {"y": {"field": "q1", "type": "quantitative", "scale": {"domain": [-0.5, 3], "nice": false, "zero": false}, "axis": {"values": [0,1,2,3], "title": "Potência de Alfa (μV²)"}}}},
{"data": {"name": "sum"}, "transform": [{"filter": "datum.p == 3"}], "mark": {"type": "tick", "size": 32, "thickness": 2.5, "color": "black", "opacity": 1}, "encoding": {"y": {"field": "med", "type": "quantitative", "scale": {"domain": [-0.5, 3], "nice": false, "zero": false}, "axis": {"values": [0,1,2,3], "title": "Potência de Alfa (μV²)"}}, "color": {"value": "black"}}},
{"data": {"name": "pts"}, "transform": [{"filter": "datum.p == 3"}], "mark": {"type": "circle", "size": 52, "opacity": 1}, "encoding": {"xOffset": {"field": "j", "type": "quantitative", "scale": {"domain": [-1.166, 1.166]}}, "y": {"field": "v", "type": "quantitative", "scale": {"domain": [-0.5, 3], "nice": false, "zero": false}, "axis": {"values": [0,1,2,3], "title": "Potência de Alfa (μV²)"}}}}
]
}
],
"config": {
"view": {"stroke": null},
"font": "Liberation Sans",
"axis": {"domainColor": "black", "domainWidth": 3, "domainCap": "square", "tickColor": "black", "tickWidth": 3, "tickSize": 10, "labelColor": "black", "labelFont": "Liberation Sans", "labelFontWeight": "bold", "grid": false, "titleColor": "black", "titleFont": "Liberation Sans", "titleFontWeight": "bold"},
"axisX": {"labelFontSize": 17.5, "labelPadding": 5, "labelAngle": 0},
"axisY": {"labelFontSize": 15.5, "labelPadding": 3, "titleFontSize": 20.5, "titlePadding": 6},
"title": {"fontSize": 21, "font": "Liberation Sans", "fontWeight": "bold", "color": "black", "anchor": "middle", "offset": -2, "frame": "group"},
"legend": {"labelFont": "Liberation Sans"}
}
}
